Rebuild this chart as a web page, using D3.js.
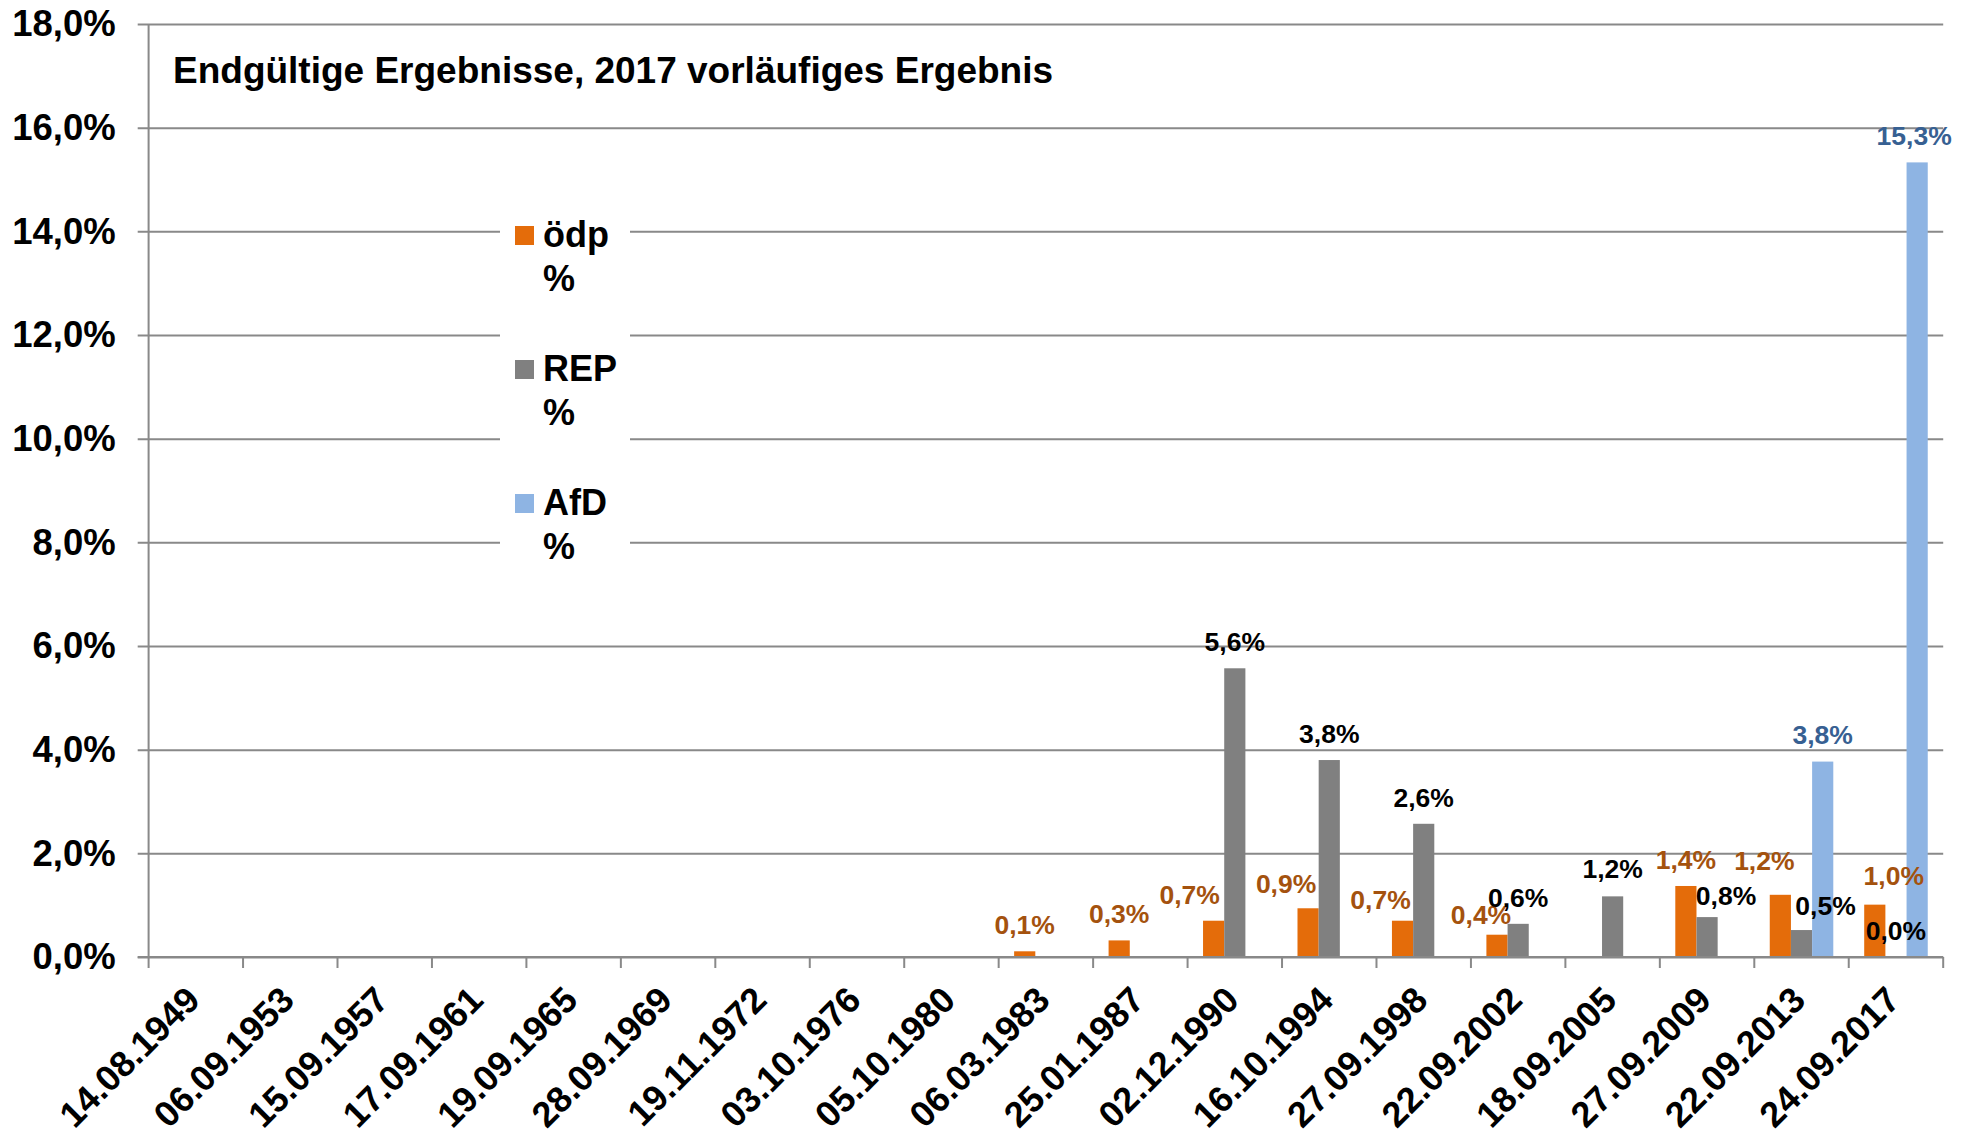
<!DOCTYPE html>
<html>
<head>
<meta charset="utf-8">
<script src="https://cdn.jsdelivr.net/npm/d3@7"></script>
<style>
  html, body { margin: 0; padding: 0; background: #fff; }
  svg { display: block; }
  text { font-family: "Liberation Sans", Arial, Helvetica, sans-serif; font-weight: bold; }
</style>
</head>
<body>
<svg id="chart" width="1974" height="1141"></svg>
<script>
// ---------------- data ----------------
const categories = ["14.08.1949","06.09.1953","15.09.1957","17.09.1961","19.09.1965","28.09.1969",
  "19.11.1972","03.10.1976","05.10.1980","06.03.1983","25.01.1987","02.12.1990","16.10.1994",
  "27.09.1998","22.09.2002","18.09.2005","27.09.2009","22.09.2013","24.09.2017"];
const seriesNames = ["ödp", "REP", "AfD"];
const odpValues = [null,null,null,null,null,null,null,null,null,0.11,0.32,0.70,0.94,0.70,0.43,null,1.37,1.20,1.01];
const repValues = [null,null,null,null,null,null,null,null,null,null,null,5.57,3.80,2.57,0.64,1.17,0.77,0.52,0.0];
const afdValues = [null,null,null,null,null,null,null,null,null,null,null,null,null,null,null,null,null,3.77,15.33];
const yTicks = [0,2,4,6,8,10,12,14,16,18];
const titleText = "Endgültige Ergebnisse, 2017 vorläufiges Ergebnis";

// ---------------- styling / layout ----------------
const barColors = {"ödp": "#E46C0A", "REP": "#808080", "AfD": "#8EB4E3"};
const labelColors = {"ödp": "#A4520E", "REP": "#000000", "AfD": "#376092"};
// manual nudges of data labels (px), as in the original
const labelNudge = {
  "ödp": {11: [-24, 0], 12: [-22, 2], 13: [-22, 5], 14: [-16, 6], 17: [-16, -8], 18: [19, -3]},
  "REP": {15: [0, -1], 16: [19, 5], 17: [24, 2]},
  "AfD": {17: [0, -1], 18: [-3, 0]}
};
const plot = {left: 148.6, right: 1943.2, top: 24, bottom: 957};
const gridStart = 137.7;

const svg = d3.select("#chart");
const locale = d3.formatLocale({decimal: ",", thousands: ".", grouping: [3], currency: ["", " €"]});
const f1 = locale.format(".1f");
const pct = v => f1(v) + "%";

const y = d3.scaleLinear().domain([0, 18]).range([plot.bottom, plot.top]);
const x0 = d3.scaleBand().domain(categories).range([plot.left, plot.right]).padding(0);
const x1 = d3.scaleBand().domain(seriesNames).range([0, x0.bandwidth()]).paddingInner(0).paddingOuter(0.73);

const seriesData = [
  {name: "ödp", values: odpValues},
  {name: "REP", values: repValues},
  {name: "AfD", values: afdValues}
];

// ---------------- gridlines + y axis ----------------
const yAxis = d3.axisLeft(y)
  .tickValues(yTicks)
  .tickFormat(pct)
  .tickSize(-(plot.right - gridStart))
  .tickPadding(22);
const gy = svg.append("g").attr("transform", `translate(${gridStart},0)`).call(yAxis);
gy.select(".domain").remove();
gy.selectAll(".tick line").attr("stroke", "#898989").attr("stroke-width", 2);
gy.selectAll(".tick text")
  .attr("fill", "#000")
  .style("font-size", "36.5px")
  .style("font-family", '"Liberation Sans", Arial, sans-serif')
  .style("font-weight", "bold");

// ---------------- bars ----------------
const groups = svg.append("g").selectAll("g.series").data(seriesData).join("g").attr("class", "series");
groups.selectAll("rect")
  .data(s => s.values.map((v, i) => ({name: s.name, v, i})).filter(d => d.v !== null))
  .join("rect")
  .attr("x", d => x0(categories[d.i]) + x1(d.name))
  .attr("y", d => y(d.v))
  .attr("width", x1.bandwidth())
  .attr("height", d => y(0) - y(d.v))
  .attr("fill", d => barColors[d.name]);

// ---------------- axes lines & x ticks ----------------
svg.append("line")
  .attr("x1", plot.left).attr("x2", plot.left)
  .attr("y1", plot.top).attr("y2", plot.bottom)
  .attr("stroke", "#898989").attr("stroke-width", 2);
svg.append("line")
  .attr("x1", gridStart).attr("x2", plot.right)
  .attr("y1", plot.bottom).attr("y2", plot.bottom)
  .attr("stroke", "#898989").attr("stroke-width", 2);
const boundaries = categories.map(c => x0(c)).concat([x0.range()[1]]);
svg.append("g").selectAll("line").data(boundaries).join("line")
  .attr("x1", d => d).attr("x2", d => d)
  .attr("y1", plot.bottom).attr("y2", plot.bottom + 11)
  .attr("stroke", "#898989").attr("stroke-width", 2);

// x labels
svg.append("g").selectAll("text").data(categories).join("text")
  .attr("transform", c => `translate(${x0(c) + x0.bandwidth() / 2 + 6},${plot.bottom + 45}) rotate(-45)`)
  .attr("text-anchor", "end")
  .style("font-size", "36px")
  .attr("fill", "#000")
  .text(c => c);

// ---------------- legend ----------------
svg.append("rect")
  .attr("x", 500).attr("y", 205).attr("width", 130).attr("height", 365)
  .attr("fill", "#fff");
const leg = svg.append("g").selectAll("g").data(seriesNames).join("g")
  .attr("transform", (d, i) => `translate(515,${247 + i * 134})`);
leg.append("rect")
  .attr("x", 0).attr("y", -21).attr("width", 19).attr("height", 19)
  .attr("fill", d => barColors[d]);
leg.append("text").attr("x", 28).attr("y", 0).style("font-size", "36px").attr("fill", "#000").text(d => d);
leg.append("text").attr("x", 28).attr("y", 44).style("font-size", "36px").attr("fill", "#000").text("%");

// ---------------- data labels ----------------
const labels = [];
seriesData.forEach(s => s.values.forEach((v, i) => {
  if (v === null) return;
  const n = (labelNudge[s.name] && labelNudge[s.name][i]) || [0, 0];
  labels.push({name: s.name, v, i, dx: n[0], dy: n[1]});
}));
svg.append("g").selectAll("text").data(labels).join("text")
  .attr("x", d => x0(categories[d.i]) + x1(d.name) + x1.bandwidth() / 2 + d.dx)
  .attr("y", d => y(d.v) - 17 + d.dy)
  .attr("text-anchor", "middle")
  .style("font-size", "26.5px")
  .attr("fill", d => labelColors[d.name])
  .text(d => pct(d.v));

// ---------------- title ----------------
svg.append("text")
  .attr("x", 173).attr("y", 83)
  .style("font-size", "37px")
  .attr("fill", "#000")
  .text(titleText);
</script>
</body>
</html>
